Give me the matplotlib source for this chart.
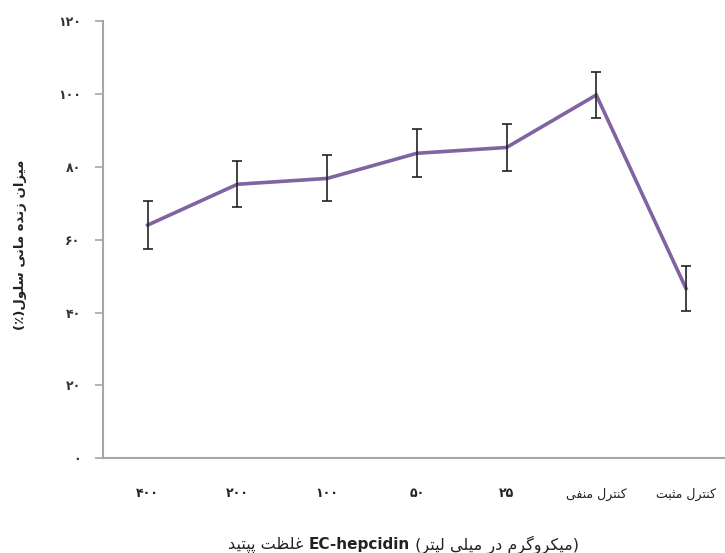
import matplotlib
matplotlib.use("Agg")
import matplotlib.pyplot as plt

# cell viability (%) per peptide concentration, plus controls
categories = ['۴۰۰', '۲۰۰', '۱۰۰', '۵۰', '۲۵', 'کنترل منفی', 'کنترل مثبت']
viability = [64.0, 75.2, 76.8, 83.7, 85.3, 99.7, 46.6]
errors = [6.5, 6.3, 6.3, 6.6, 6.5, 6.3, 6.3]
yticks = [0, 20, 40, 60, 80, 100, 120]
ytick_labels = ['۰', '۲۰', '۴۰', '۶۰', '۸۰', '۱۰۰', '۱۲۰']

# presentation forms: isolated, final, initial, medial
FORMS = {
    'ا': ('\uFE8D', '\uFE8E', None, None),
    'ب': ('\uFE8F', '\uFE90', '\uFE91', '\uFE92'),
    'پ': ('\uFB56', '\uFB57', '\uFB58', '\uFB59'),
    'ت': ('\uFE95', '\uFE96', '\uFE97', '\uFE98'),
    'ث': ('\uFE99', '\uFE9A', '\uFE9B', '\uFE9C'),
    'د': ('\uFEA9', '\uFEAA', None, None),
    'ر': ('\uFEAD', '\uFEAE', None, None),
    'ز': ('\uFEAF', '\uFEB0', None, None),
    'س': ('\uFEB1', '\uFEB2', '\uFEB3', '\uFEB4'),
    'ظ': ('\uFEC5', '\uFEC6', '\uFEC7', '\uFEC8'),
    'غ': ('\uFECD', '\uFECE', '\uFECF', '\uFED0'),
    'ف': ('\uFED1', '\uFED2', '\uFED3', '\uFED4'),
    'ک': ('\uFB8E', '\uFB8F', '\uFB90', '\uFB91'),
    'گ': ('\uFB92', '\uFB93', '\uFB94', '\uFB95'),
    'ل': ('\uFEDD', '\uFEDE', '\uFEDF', '\uFEE0'),
    'م': ('\uFEE1', '\uFEE2', '\uFEE3', '\uFEE4'),
    'ن': ('\uFEE5', '\uFEE6', '\uFEE7', '\uFEE8'),
    'ه': ('\uFEE9', '\uFEEA', '\uFEEB', '\uFEEC'),
    'و': ('\uFEED', '\uFEEE', None, None),
    'ی': ('\uFBFC', '\uFBFD', '\uFBFE', '\uFBFF'),
}


def dual(c):
    return c in FORMS and FORMS[c][2] is not None


def shape(word):
    # digits and latin stay as they are
    if not any(c in FORMS for c in word):
        return word
    out = []
    for i, c in enumerate(word):
        if c not in FORMS:
            out.append(c)
            continue
        jp = i > 0 and dual(word[i - 1])
        jn = i < len(word) - 1 and word[i + 1] in FORMS and dual(c)
        iso, fin, ini, med = FORMS[c]
        if jp and jn:
            out.append(med)
        elif jp:
            out.append(fin)
        elif jn:
            out.append(ini)
        else:
            out.append(iso)
    return ''.join(reversed(out))


def rtl(text):
    return ' '.join(shape(w) for w in reversed(text.split()))


gray = '#a6a6a6'
purple = '#8064a2'
dark = '#222222'

fig = plt.figure(figsize=(7.25, 5.53), dpi=100)
ax = fig.add_axes([102.85 / 725, 94.7 / 553, 628 / 725, 437.3 / 553])

x = list(range(len(categories)))
ax.plot(x, viability, color=purple, linewidth=2.6, solid_joinstyle='miter', zorder=2)
ax.errorbar(x, viability, yerr=errors, fmt='none', ecolor=dark,
            elinewidth=1.2, capsize=3.4, capthick=1.2, zorder=3)

ax.set_xlim(-0.5, 6.5)
ax.set_ylim(0, 120)
ax.set_yticks(yticks)
ax.set_yticklabels(ytick_labels, fontsize=9, fontweight='bold', color='#333333')
ax.set_xticks(x)
ax.set_xticklabels([rtl(c) for c in categories], fontsize=9, color=dark)
for lab in ax.get_xticklabels()[:5]:
    lab.set_fontweight('bold')
ax.tick_params(axis='x', length=0, pad=21)
ax.tick_params(axis='y', length=6, width=1.2, color=gray, pad=10)

for s in ['top', 'right']:
    ax.spines[s].set_visible(False)
for s in ['left', 'bottom']:
    ax.spines[s].set_color(gray)
    ax.spines[s].set_linewidth(1.5)

ylab = '(٪)' + rtl('میزان زنده مانی سلول')
fig.text(21 / 725, 1 - 245 / 553, ylab, rotation=90, ha='center', va='center',
         fontsize=9.5, fontweight='bold', color=dark)

# x axis title: persian words, bold peptide name, unit in parentheses
t1 = fig.text(228 / 725, 8 / 553, rtl('غلظت پپتید') + ' ', ha='left', va='center',
              fontsize=11.5, color=dark)
t2 = ax.annotate('EC-hepcidin', xy=(1, 0.5), xycoords=t1, ha='left', va='center',
                 fontsize=11, fontweight='bold', color=dark)
ax.annotate(' (' + rtl('میکروگرم در میلی لیتر') + ')', xy=(1, 0.5), xycoords=t2,
            ha='left', va='center', fontsize=11.5, color=dark)

fig.savefig('out.png', dpi=100)
